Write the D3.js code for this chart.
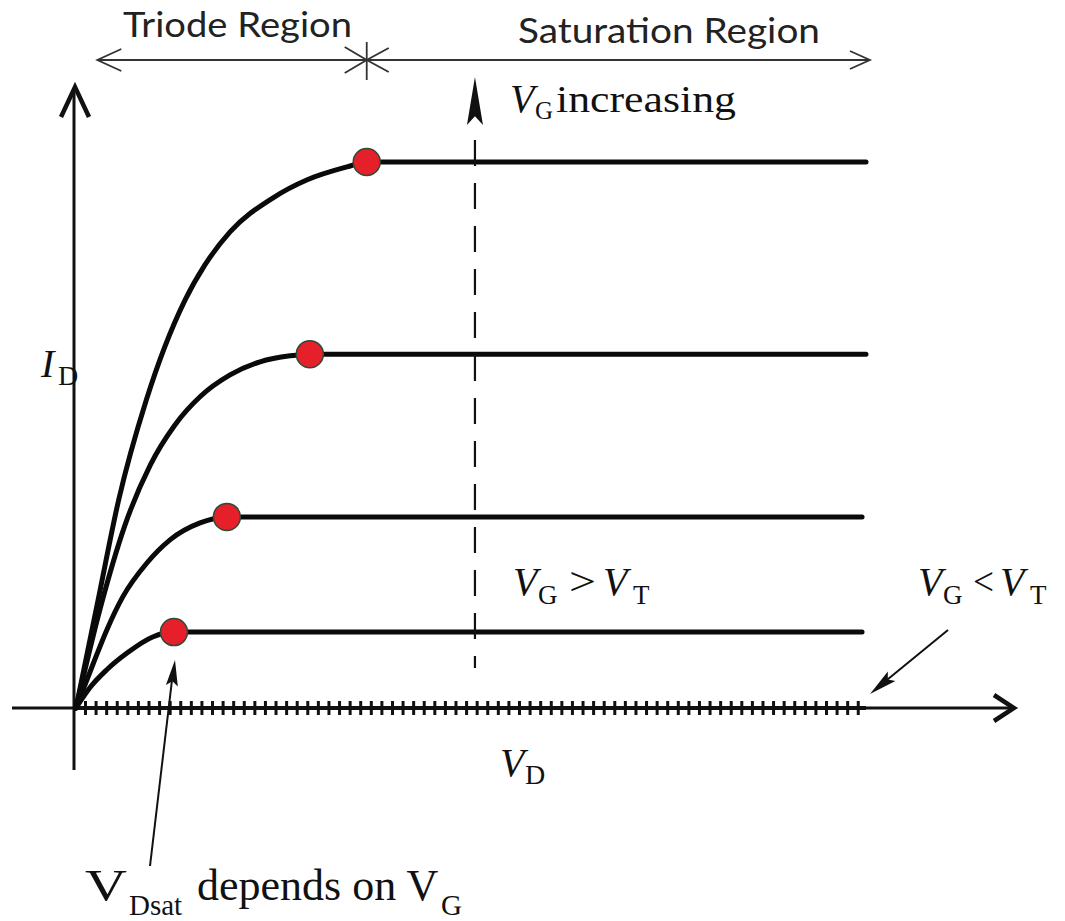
<!DOCTYPE html>
<html>
<head>
<meta charset="utf-8">
<script src="https://cdn.jsdelivr.net/npm/d3@7"></script>
<style>
  body { margin: 0; background: #fff; }
  svg { display: block; }
  .serif { font-family: "Liberation Serif", "Times New Roman", serif; fill: #111; }
  .region { font-family: Lato, "Open Sans", sans-serif; fill: #222; }
</style>
</head>
<body>
<div id="chart"></div>
<script>
// drain current curves (arbitrary units, VD 0..10, ID 0..10)
const vdCurve1 = [0, 0.28, 0.54, 0.89, 1.38, 1.63, 1.95, 2.49, 2.92, 3.43, 3.68, 10]
const idCurve1 = [0, 1.98, 3.81, 5.64, 7.47, 8.11, 8.72, 9.34, 9.67, 9.91, 10, 10]
const vdCurve2 = [0, 0.30, 0.62, 0.94, 1.25, 1.57, 1.95, 2.33, 2.71, 2.96, 10]
const idCurve2 = [0, 1.79, 3.35, 4.45, 5.18, 5.70, 6.10, 6.34, 6.45, 6.48, 6.48]
const vdCurve3 = [0, 0.22, 0.39, 0.59, 0.90, 1.19, 1.57, 1.91, 9.95]
const idCurve3 = [0, 0.82, 1.43, 2.03, 2.66, 3.08, 3.39, 3.50, 3.50]
const vdCurve4 = [0, 0.18, 0.39, 0.65, 0.97, 1.24, 9.95]
const idCurve4 = [0, 0.38, 0.70, 1.01, 1.30, 1.39, 1.39]

// saturation points (VDsat) for each curve
const vdSat = [3.68, 2.96, 1.91, 1.24]
const idSat = [10, 6.48, 3.50, 1.39]

// region boundaries on the VD axis
const regionStart = 0.27
const regionSplit = 3.68
const regionEnd = 10.05
const vgArrowVd = 5.05

const width = 1065
const height = 921

const x = d3.scaleLinear().domain([0, 10]).range([76, 866])
const y = d3.scaleLinear().domain([0, 10]).range([708, 162])

const svg = d3.select('#chart').append('svg')
  .attr('width', width)
  .attr('height', height)

// small helpers for arrow heads
function chevron(tx, ty, ux, uy, len, half) {
  let bx = tx - ux * len, by = ty - uy * len
  return [[bx - uy * half, by + ux * half], [tx, ty], [bx + uy * half, by - ux * half]]
}
function filledHead(x1, y1, x2, y2, len, half) {
  let L = Math.hypot(x2 - x1, y2 - y1)
  let ux = (x2 - x1) / L, uy = (y2 - y1) / L
  let bx = x2 - ux * len, by = y2 - uy * len
  let nx = x2 - ux * len * 0.82, ny = y2 - uy * len * 0.82
  return [[x2, y2], [bx - uy * half, by + ux * half], [nx, ny], [bx + uy * half, by - ux * half]]
}
let poly = d3.line()

// axes
let x0 = x(0), y0 = y(0)
svg.append('line')
  .attr('x1', x0 - 2).attr('x2', x0 - 2)
  .attr('y1', 770).attr('y2', 88)
  .attr('stroke', '#111').attr('stroke-width', 3)
svg.append('path')
  .attr('d', poly(chevron(x0 - 1, 87, 0, -1, 30, 14)))
  .attr('fill', 'none').attr('stroke', '#111').attr('stroke-width', 4.5)

svg.append('line')
  .attr('x1', 12).attr('x2', 1013)
  .attr('y1', y0).attr('y2', y0)
  .attr('stroke', '#111').attr('stroke-width', 3)
svg.append('line')
  .attr('x1', x0).attr('x2', x(10))
  .attr('y1', y0).attr('y2', y0)
  .attr('stroke', '#111').attr('stroke-width', 4)
svg.append('path')
  .attr('d', poly(chevron(1014, y0, 1, 0, 20, 13)))
  .attr('fill', 'none').attr('stroke', '#111').attr('stroke-width', 4.5)

// VG < VT : zero current, drawn as a hatched line on the VD axis
svg.append('g').selectAll('line')
  .data(d3.range(0.12, 10, 0.134))
  .join('line')
  .attr('x1', d => x(d)).attr('x2', d => x(d))
  .attr('y1', y0 - 7).attr('y2', y0 + 7)
  .attr('stroke', '#111').attr('stroke-width', 3)

// ID - VD curves
let curves = [
  [vdCurve1, idCurve1],
  [vdCurve2, idCurve2],
  [vdCurve3, idCurve3],
  [vdCurve4, idCurve4]
]
let line = d3.line()
  .x(d => x(d[0]))
  .y(d => y(d[1]))
  .curve(d3.curveMonotoneX)

svg.append('g').selectAll('path')
  .data(curves)
  .join('path')
  .attr('d', c => line(c[0].map((v, i) => [v, c[1][i]])))
  .attr('fill', 'none')
  .attr('stroke', '#0a0a0a')
  .attr('stroke-width', 5)
  .attr('stroke-linecap', 'round')

// dashed VG increasing arrow
let ax = x(vgArrowVd)
svg.append('line')
  .attr('x1', ax).attr('x2', ax)
  .attr('y1', 140).attr('y2', 668)
  .attr('stroke', '#111').attr('stroke-width', 2.2)
  .attr('stroke-dasharray', '26,17')
svg.append('path')
  .attr('d', poly(filledHead(ax, 140, ax, 77, 48, 8)) + 'Z')
  .attr('fill', '#111')

// saturation dots
svg.append('g').selectAll('circle')
  .data(vdSat.map((v, i) => [v, idSat[i]]))
  .join('circle')
  .attr('cx', d => x(d[0]))
  .attr('cy', d => y(d[1]))
  .attr('r', 13.5)
  .attr('fill', '#e5202a')
  .attr('stroke', '#2f4a35')
  .attr('stroke-width', 1.5)

// region brackets at the top
let by = 60
let xs = x(regionStart), xm = x(regionSplit), xe = x(regionEnd)
let bracket = svg.append('g')
  .attr('fill', 'none').attr('stroke', '#333').attr('stroke-width', 1.8)
bracket.append('line').attr('x1', xs).attr('x2', xe).attr('y1', by).attr('y2', by)
bracket.append('line').attr('x1', xm).attr('x2', xm).attr('y1', 42).attr('y2', 80)
bracket.append('path').attr('d', poly(chevron(xs, by, -1, 0, 24, 11)))
bracket.append('path').attr('d', poly(chevron(xm, by, 1, 0, 22, 13)))
bracket.append('path').attr('d', poly(chevron(xm, by, -1, 0, 22, 12)))
bracket.append('path').attr('d', poly(chevron(xe, by, 1, 0, 20, 9)))

svg.append('text').attr('class', 'region')
  .attr('x', 123).attr('y', 37)
  .attr('font-size', 35)
  .attr('textLength', 229).attr('lengthAdjust', 'spacingAndGlyphs')
  .text('Triode Region')
svg.append('text').attr('class', 'region')
  .attr('x', 518).attr('y', 43)
  .attr('font-size', 35)
  .attr('textLength', 302).attr('lengthAdjust', 'spacingAndGlyphs')
  .text('Saturation Region')

// annotation arrows
svg.append('line')
  .attr('x1', 948).attr('y1', 630).attr('x2', 882).attr('y2', 684)
  .attr('stroke', '#111').attr('stroke-width', 2)
svg.append('path')
  .attr('d', poly(filledHead(948, 630, 870, 694, 28, 6)) + 'Z')
  .attr('fill', '#111')

svg.append('line')
  .attr('x1', 150).attr('y1', 866).attr('x2', 172).attr('y2', 680)
  .attr('stroke', '#111').attr('stroke-width', 2)
svg.append('path')
  .attr('d', poly(filledHead(150, 866, 175, 660, 26, 6)) + 'Z')
  .attr('fill', '#111')

// math labels: one text per label, each part placed as a tspan
function label(parts) {
  let t = svg.append('text').attr('class', 'serif')
  parts.forEach(p => {
    let s = t.append('tspan')
      .attr('x', p.x).attr('y', p.y)
      .attr('font-size', p.size)
      .text(p.t)
    if (p.it) s.attr('font-style', 'italic')
    if (p.len) s.attr('textLength', p.len).attr('lengthAdjust', 'spacingAndGlyphs')
  })
  return t
}

label([
  {x: 510, y: 112, t: 'V', size: 40, it: true},
  {x: 535, y: 119, t: 'G', size: 25},
  {x: 556, y: 112, t: 'increasing', size: 38, len: 180}
])

label([
  {x: 41, y: 377, t: 'I', size: 40, it: true},
  {x: 58, y: 385, t: 'D', size: 28}
])

label([
  {x: 500, y: 776, t: 'V', size: 40, it: true},
  {x: 525, y: 784, t: 'D', size: 28}
])

label([
  {x: 513, y: 595, t: 'V', size: 40, it: true},
  {x: 538, y: 604, t: 'G', size: 27},
  {x: 569, y: 595, t: '>', size: 40, len: 27},
  {x: 603, y: 595, t: 'V', size: 40, it: true},
  {x: 633, y: 604, t: 'T', size: 27}
])

label([
  {x: 918, y: 595, t: 'V', size: 40, it: true},
  {x: 943, y: 604, t: 'G', size: 27},
  {x: 973, y: 595, t: '<', size: 40, len: 21},
  {x: 1000, y: 595, t: 'V', size: 40, it: true},
  {x: 1030, y: 604, t: 'T', size: 27}
])

label([
  {x: 85, y: 900, t: 'V', size: 44, len: 42},
  {x: 129, y: 915, t: 'Dsat', size: 29},
  {x: 197, y: 900, t: 'depends on V', size: 44},
  {x: 441, y: 915, t: 'G', size: 29}
])
</script>
</body>
</html>
